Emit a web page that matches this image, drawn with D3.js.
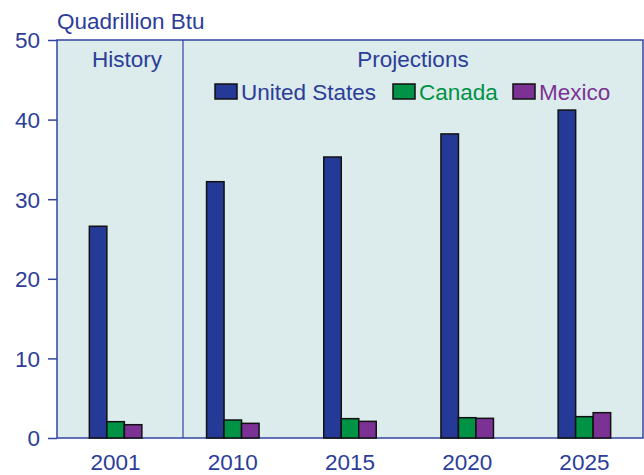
<!DOCTYPE html>
<html>
<head>
<meta charset="utf-8">
<script src="https://cdn.jsdelivr.net/npm/d3@7"></script>
<style>
  body { margin: 0; background: #fff; }
  text { font-family: "Liberation Sans", Arial, sans-serif; }
</style>
</head>
<body>
<script>
var years = ["2001", "2010", "2015", "2020", "2025"];
var countries = ["United States", "Canada", "Mexico"];
var unitedStates = [26.6, 32.2, 35.3, 38.2, 41.2];
var canada = [2.05, 2.26, 2.43, 2.55, 2.68];
var mexico = [1.67, 1.84, 2.09, 2.47, 3.18];
var yTicks = [0, 10, 20, 30, 40, 50];

var colors = {"United States": "#253a96", "Canada": "#009245", "Mexico": "#7b3294"};
var textBlue = "#2b3d99";
var fontSize = "22.5px";

var width = 644, height = 475;
var margin = {top: 40, right: 1, bottom: 37, left: 57};
var plotW = width - margin.left - margin.right,
    plotH = height - margin.top - margin.bottom;

var svg = d3.select("body").append("svg")
    .attr("width", width)
    .attr("height", height);

var g = svg.append("g")
    .attr("transform", "translate(" + margin.left + "," + margin.top + ")");

var xScale = d3.scaleBand().domain(years).range([0, plotW]);
var xInner = d3.scaleBand().domain(countries).range([0, 52.5]);
var yScale = d3.scaleLinear().domain([0, 50]).range([plotH, 0]);

var data = years.map(function(y, i) {
    return {year: y, values: [
        {c: "United States", v: unitedStates[i]},
        {c: "Canada", v: canada[i]},
        {c: "Mexico", v: mexico[i]}
    ]};
});

// plot background
g.append("rect")
    .attr("width", plotW)
    .attr("height", plotH)
    .attr("fill", "#dcebeb")
    .attr("stroke", "#3344a0")
    .attr("stroke-width", 1.5);

// history / projections divider
var divX = 126;
g.append("line")
    .attr("x1", divX).attr("x2", divX)
    .attr("y1", 0).attr("y2", plotH)
    .attr("stroke", "#3344a0")
    .attr("stroke-width", 1.2);

g.append("text")
    .attr("x", divX / 2 + 7)
    .attr("y", 27)
    .attr("text-anchor", "middle")
    .attr("fill", textBlue)
    .style("font-size", fontSize)
    .text("History");

g.append("text")
    .attr("x", (divX + plotW) / 2)
    .attr("y", 27)
    .attr("text-anchor", "middle")
    .attr("fill", textBlue)
    .style("font-size", fontSize)
    .text("Projections");

// bars
var groups = g.selectAll(".grp")
    .data(data)
    .enter().append("g")
    .attr("transform", function(d) {
        return "translate(" + (xScale(d.year) + xScale.bandwidth() / 2 - 26.25) + ",0)";
    });

groups.selectAll("rect")
    .data(function(d) { return d.values; })
    .enter().append("rect")
    .attr("x", function(d) { return xInner(d.c); })
    .attr("width", xInner.bandwidth())
    .attr("y", function(d) { return yScale(d.v); })
    .attr("height", function(d) { return plotH - yScale(d.v); })
    .attr("fill", function(d) { return colors[d.c]; })
    .attr("stroke", "#111")
    .attr("stroke-width", 1.5);

// y axis
var yAxis = d3.axisLeft(yScale).tickValues(yTicks).tickSize(9).tickPadding(8);
var ya = g.append("g").call(yAxis);
ya.select(".domain").remove();
ya.selectAll("line").attr("stroke", "#3344a0").attr("stroke-width", 1.5);
ya.selectAll("text").attr("fill", textBlue).style("font-size", fontSize)
    .attr("dy", "0.35em");

// x axis
var xAxis = d3.axisBottom(xScale).tickSize(0).tickPadding(16);
var xa = g.append("g").attr("transform", "translate(0," + plotH + ")").call(xAxis);
xa.select(".domain").remove();
xa.selectAll("text").attr("fill", textBlue).style("font-size", fontSize)
    .attr("dy", "0.71em");

// unit label
svg.append("text")
    .attr("x", 57)
    .attr("y", 29)
    .attr("fill", textBlue)
    .style("font-size", fontSize)
    .text("Quadrillion Btu");

// legend
var legendX = [215, 393, 513];
var legend = g.selectAll(".leg")
    .data(countries)
    .enter().append("g")
    .attr("transform", function(d, i) {
        return "translate(" + (legendX[i] - margin.left) + "," + (84 - margin.top) + ")";
    });
legend.append("rect")
    .attr("width", 22)
    .attr("height", 15)
    .attr("fill", function(d) { return colors[d]; })
    .attr("stroke", "#111")
    .attr("stroke-width", 1.5);
legend.append("text")
    .attr("x", 26)
    .attr("y", 16)
    .attr("fill", function(d) { return d === "United States" ? textBlue : colors[d]; })
    .style("font-size", fontSize)
    .text(function(d) { return d; });
</script>
</body>
</html>
